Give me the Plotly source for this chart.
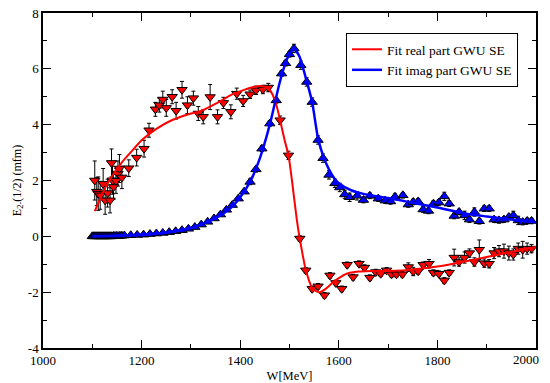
import plotly.graph_objects as go

# ---- data ----
real_W = [1105, 1109, 1112, 1116, 1122, 1126, 1131, 1136, 1139, 1141, 1143, 1148, 1152, 1155, 1160,
          1174, 1190, 1205, 1215, 1228, 1236, 1243, 1250, 1262, 1270, 1282, 1293, 1305, 1315,
          1325, 1339, 1354, 1366, 1381, 1393, 1406, 1420, 1432, 1446, 1457, 1481, 1498,
          1521, 1533, 1546, 1558, 1571, 1582, 1594, 1606, 1617, 1629, 1641, 1652, 1663, 1675,
          1685, 1697, 1707, 1717, 1729, 1741, 1751, 1761, 1771, 1783, 1792, 1803, 1814, 1824,
          1834, 1844, 1855, 1865, 1875, 1885, 1895, 1905, 1915, 1925, 1935, 1945, 1954, 1964,
          1973, 1982, 1991]
real_val = [2.0, 1.6, 1.53, 1.47, 1.88, 1.29, 1.55, 1.29, 2.63, 2.01, 1.77, 1.99, 2.25, 2.43, 2.11,
            2.44, 2.82, 3.14, 3.8, 4.55, 4.7, 4.9, 4.6, 5.0, 4.5, 5.25, 4.7, 4.95, 4.4,
            4.28, 4.99, 4.28, 4.78, 4.46, 5.11, 4.85, 5.09, 5.23, 5.26, 5.33, 4.16, 2.9,
            -0.08, -1.22, -1.88, -1.79, -2.11, -1.40, -1.67, -1.88, -1.02, -1.46, -0.98, -1.12, -1.48, -1.28,
            -1.34, -1.22, -1.36, -1.36, -1.36, -1.10, -1.26, -1.25, -1.02, -0.98, -1.30, -1.34, -1.58, -1.30,
            -0.76, -0.92, -0.76, -0.60, -0.92, -0.48, -0.96, -0.98, -0.60, -0.53, -0.53, -0.60, -0.65, -0.44,
            -0.48, -0.44, -0.44]
real_err = [0.7, 0.5, 0.6, 0.5, 0.55, 0.5, 0.5, 0.45, 0.5, 0.5, 0.45, 0.45, 0.45, 0.5, 0.4,
            0.3, 0.3, 0.3, 0.25, 0.25, 0.25, 0.3, 0.3, 0.25, 0.3, 0.3, 0.3, 0.25, 0.25,
            0.25, 0.45, 0.25, 0.2, 0.25, 0.2, 0.2, 0.15, 0.15, 0.15, 0.15, 0.15, 0.15,
            0.1, 0.1, 0.1, 0.1, 0.1, 0.1, 0.1, 0.1, 0.1, 0.1, 0.1, 0.1, 0.1, 0.1,
            0.1, 0.1, 0.1, 0.1, 0.1, 0.15, 0.15, 0.1, 0.1, 0.15, 0.1, 0.1, 0.1, 0.1,
            0.3, 0.15, 0.2, 0.15, 0.15, 0.35, 0.15, 0.15, 0.2, 0.2, 0.25, 0.25, 0.2, 0.2,
            0.3, 0.2, 0.15]

imag_W = [1100, 1102, 1104, 1106, 1108, 1110, 1112, 1114, 1116, 1118, 1120, 1122, 1124, 1126,
          1128, 1130, 1132, 1134, 1136, 1138, 1140, 1143, 1146, 1149, 1152, 1156, 1160,
          1165, 1178, 1191, 1204, 1217, 1230, 1243, 1256, 1269, 1282, 1295, 1308, 1321, 1334,
          1347, 1360, 1372, 1384, 1396, 1408, 1420, 1432, 1444, 1460, 1473, 1484, 1492, 1500,
          1509, 1523, 1535, 1546, 1558, 1568, 1580, 1592, 1602, 1612, 1622, 1637, 1650, 1663,
          1680, 1694, 1705, 1714, 1730, 1741, 1751, 1761, 1771, 1782, 1792, 1803, 1814, 1824,
          1834, 1844, 1855, 1865, 1875, 1885, 1895, 1905, 1915, 1925, 1935, 1945, 1954, 1964,
          1973, 1982, 1991]
imag_val = [0.0, 0.0, 0.0, 0.0, 0.0, 0.0, 0.0, 0.0, 0.0, 0.0, 0.0, 0.0, 0.0, 0.0,
            0.0, 0.0, 0.0, 0.0, 0.0, 0.0, 0.0, 0.01, 0.01, 0.01, 0.01, 0.02, 0.02,
            0.03, 0.04, 0.05, 0.06, 0.08, 0.10, 0.12, 0.15, 0.18, 0.22, 0.27, 0.33, 0.42, 0.52,
            0.64, 0.78, 0.95, 1.12, 1.35, 1.6, 1.95, 2.4, 3.14, 4.04, 4.87, 5.83, 6.2, 6.52,
            6.73, 6.13, 5.53, 4.81, 3.45, 2.8, 2.2, 1.9, 1.75, 1.5, 1.4, 1.45, 1.3, 1.45,
            1.35, 1.28, 1.25, 1.42, 1.47, 1.14, 1.23, 1.25, 0.96, 0.91, 1.17, 1.21, 1.43, 1.17,
            0.73, 0.87, 0.75, 0.60, 0.87, 0.54, 0.99, 0.99, 0.60, 0.57, 0.60, 0.69, 0.75, 0.57,
            0.51, 0.55, 0.55]
imag_err = [0.03] * 27 + [0.05] * 20 + [0.1] * 8 + [0.15] * 12 + [0.1] * 11 + [0.1, 0.1, 0.1, 0.15, 0.1, 0.1, 0.1, 0.15, 0.1,
            0.15, 0.1, 0.1, 0.1, 0.1, 0.1, 0.1, 0.1, 0.15, 0.15, 0.1, 0.1, 0.1, 0.2, 0.2, 0.15, 0.15, 0.1]

fit_W = [1105, 1115, 1125, 1140, 1160, 1180, 1200, 1230, 1260, 1300, 1318, 1350, 1386, 1426, 1445,
         1457, 1465, 1475, 1481, 1490, 1498, 1505, 1515, 1521, 1533, 1546, 1556, 1562, 1572, 1585,
         1600, 1616, 1640, 1680, 1700, 1730, 1760, 1800, 1859, 1900, 1950, 2000]
fit_real = [0.9, 1.3, 1.7, 2.15, 2.65, 3.05, 3.44, 3.85, 4.15, 4.4, 4.47, 4.75, 5.1, 5.35, 5.38,
            5.3, 5.1, 4.6, 4.16, 3.45, 2.9, 2.0, 0.57, -0.1, -1.2, -1.85, -1.98, -2.0, -1.9, -1.7,
            -1.5, -1.34, -1.26, -1.24, -1.24, -1.22, -1.17, -1.08, -0.89, -0.74, -0.56, -0.38]
fitI_W = [1100, 1150, 1200, 1250, 1300, 1350, 1380, 1400, 1420, 1440, 1460, 1480, 1495, 1509, 1520,
          1535, 1546, 1558, 1570, 1580, 1590, 1600, 1625, 1650, 1700, 1725, 1750, 1800, 1859, 1900,
          1950, 2000]
fit_imag = [0.0, 0.02, 0.06, 0.14, 0.3, 0.65, 1.0, 1.4, 1.95, 2.8, 4.0, 5.5, 6.35, 6.72, 6.45,
            5.55, 4.8, 3.5, 2.8, 2.4, 2.1, 1.9, 1.65, 1.52, 1.37, 1.29, 1.2, 1.03, 0.81, 0.71,
            0.6, 0.5]

x_ticks = [1000, 1200, 1400, 1600, 1800, 2000]
x_ticktext = ["1000", "1200", "1400", "1600", "1800", ""]
x_last_label = "2000"
y_ticks = [-4, -2, 0, 2, 4, 6, 8]
y_ticktext = ["-4", "-2", "0", "2", "4", "6", "8"]

FONT = "Liberation Serif, Times New Roman, serif"

fig = go.Figure()

fig.add_trace(go.Scatter(x=real_W, y=real_val, mode="markers", showlegend=False,
                         marker=dict(symbol="triangle-down", size=9, color="red",
                                     line=dict(color="black", width=1)),
                         error_y=dict(type="data", array=real_err, color="black", thickness=1, width=2)))
fig.add_trace(go.Scatter(x=imag_W, y=imag_val, mode="markers", showlegend=False,
                         marker=dict(symbol="triangle-up", size=9, color="blue",
                                     line=dict(color="black", width=1)),
                         error_y=dict(type="data", array=imag_err, color="black", thickness=1, width=2)))
fig.add_trace(go.Scatter(x=fit_W, y=fit_real, mode="lines", name="Fit real part GWU SE",
                         line=dict(color="red", width=2, shape="spline", smoothing=0.6)))
fig.add_trace(go.Scatter(x=fitI_W, y=fit_imag, mode="lines", name="Fit imag part GWU SE",
                         line=dict(color="blue", width=2.5, shape="spline", smoothing=0.6)))

# the page body adds an 8px offset, so the layout is shifted by 8px
OFF = 8
W_, H_ = 550, 383 - OFF
L, T, B = 43 - OFF, 13 - OFF, 35
R = W_ - (536 - OFF)
pw, ph = W_ - L - R, H_ - T - B

def px(xp):
    return (xp - OFF - L) / pw

def py(yp):
    return (H_ - B - (yp - OFF)) / ph

axis_common = dict(showline=True, linecolor="black", linewidth=1.5, mirror="ticks",
                   ticks="inside", ticklen=8, tickwidth=1, tickcolor="black",
                   showgrid=False, zeroline=False, automargin=False,
                   ticklabeloverflow="allow",
                   tickfont=dict(family=FONT, size=13, color="black"))

fig.update_layout(
    width=W_, height=H_,
    margin=dict(l=L, r=R, t=T, b=B, autoexpand=False),
    paper_bgcolor="white", plot_bgcolor="white",
    font=dict(family=FONT, color="black"),
    legend=dict(x=px(346), y=py(33), xanchor="left", yanchor="top",
                bordercolor="black", borderwidth=1, bgcolor="white",
                font=dict(family=FONT, size=13.5, color="black"),
                tracegroupgap=0, itemwidth=30),
    xaxis=dict(range=[1000, 2000], tickmode="array", tickvals=x_ticks, ticktext=x_ticktext,
               minor=dict(tickmode="linear", tick0=1000, dtick=100, ticks="inside", ticklen=4,
                          tickcolor="black", showgrid=False),
               title=dict(text="W[MeV]", font=dict(family=FONT, size=12.5), standoff=4),
               **axis_common),
    yaxis=dict(range=[-4, 8], tickmode="array", tickvals=y_ticks, ticktext=y_ticktext,
               minor=dict(tickmode="linear", tick0=0, dtick=1, ticks="inside", ticklen=4,
                          tickcolor="black", showgrid=False),
               title=dict(text="E<sub>2-</sub>(1/2) (mfm)", font=dict(family=FONT, size=12), standoff=4),
               **axis_common),
    annotations=[dict(x=x_ticks[-1], xref="x", y=0, yref="paper", text=x_last_label,
                      showarrow=False, xanchor="right", yanchor="top", xshift=5, yshift=-2,
                      font=dict(family=FONT, size=13, color="black"))],
)

fig.write_html("out.html")
